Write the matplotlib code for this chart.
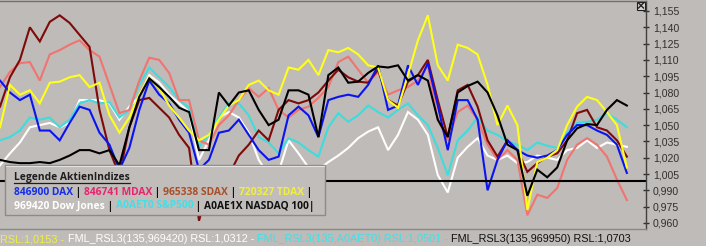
import numpy as np
import matplotlib
matplotlib.use("Agg")
import matplotlib.pyplot as plt
from matplotlib.patches import Rectangle

# ---------------- data (RSL values, one per sample) ----------------
days = np.arange(64)

dax = [1.091, 1.080, 1.073, 1.078, 1.045, 1.045, 1.036, 1.052, 1.067, 1.064,
       1.043, 1.032, 1.009, 1.029, 1.064, 1.091, 1.078, 1.070, 1.055, 1.043,
       1.009, 1.018, 1.043, 1.045, 1.055, 1.041, 1.027, 1.018, 1.021, 1.059,
       1.067, 1.059, 1.039, 1.073, 1.076, 1.078, 1.076, 1.087, 1.105, 1.064,
       1.068, 1.105, 1.087, 1.107, 1.068, 1.027, 1.073, 1.073, 1.055, 0.990,
       1.018, 1.036, 1.027, 1.022, 1.020, 1.022, 1.027, 1.041, 1.050, 1.050,
       1.045, 1.041, 1.032, 1.006]

mdax = [1.085, 1.099, 1.107, 1.108, 1.091, 1.115, 1.119, 1.124, 1.128, 1.119,
        1.113, 1.087, 1.061, 1.064, 1.091, 1.112, 1.110, 1.098, 1.073, 1.073,
        1.036, 1.032, 1.050, 1.059, 1.073, 1.084, 1.076, 1.084, 1.064, 1.057,
        1.064, 1.067, 1.075, 1.085, 1.108, 1.113, 1.101, 1.089, 1.099, 1.078,
        1.082, 1.085, 1.091, 1.105, 1.055, 1.036, 1.062, 1.068, 1.055, 1.032,
        1.018, 1.027, 1.018, 0.967, 0.986, 0.983, 0.992, 1.018, 1.032, 1.038,
        1.032, 1.021, 1.000, 0.981]

sdax = [1.067, 1.094, 1.110, 1.140, 1.127, 1.145, 1.151, 1.144, 1.133, 1.122,
        1.064, 1.027, 1.004, 1.048, 1.073, 1.075, 1.066, 1.057, 1.041, 1.029,
        0.962, 0.995, 1.000, 1.004, 1.022, 1.032, 1.045, 1.036, 1.064, 1.073,
        1.070, 1.073, 1.080, 1.091, 1.101, 1.094, 1.090, 1.089, 1.101, 1.073,
        1.068, 1.090, 1.096, 1.110, 1.073, 1.039, 1.082, 1.087, 1.067, 1.036,
        1.021, 1.036, 1.027, 1.007, 1.015, 1.021, 1.024, 1.036, 1.061, 1.064,
        1.048, 1.045, 1.036, 1.021]

tdax = [1.048, 1.087, 1.078, 1.082, 1.070, 1.089, 1.090, 1.094, 1.096, 1.085,
        1.089, 1.059, 1.043, 1.057, 1.078, 1.094, 1.084, 1.068, 1.057, 1.045,
        1.036, 1.041, 1.055, 1.068, 1.073, 1.087, 1.091, 1.082, 1.078, 1.103,
        1.101, 1.110, 1.096, 1.119, 1.117, 1.121, 1.115, 1.105, 1.103, 1.073,
        1.066, 1.096, 1.128, 1.151, 1.105, 1.091, 1.124, 1.121, 1.115, 1.087,
        1.050, 1.068, 1.050, 0.972, 1.016, 1.020, 1.027, 1.050, 1.067, 1.076,
        1.073, 1.062, 1.050, 1.011]

dow = [1.013, 1.024, 1.034, 1.048, 1.050, 1.052, 1.048, 1.052, 1.073, 1.073,
       1.073, 1.070, 1.055, 1.067, 1.076, 1.096, 1.089, 1.078, 1.070, 1.062,
       1.018, 1.036, 1.057, 1.062, 1.057, 1.043, 1.018, 1.004, 1.007, 1.036,
       1.024, 1.011, 1.009, 1.016, 1.022, 1.029, 1.038, 1.044, 1.048, 1.027,
       1.041, 1.062, 1.055, 1.041, 1.004, 0.988, 1.020, 1.030, 1.038, 1.022,
       1.018, 1.022, 1.015, 1.016, 1.022, 1.020, 1.018, 1.027, 1.029, 1.036,
       1.029, 1.034, 1.032, 1.030]

sp500 = [1.036, 1.039, 1.045, 1.057, 1.055, 1.057, 1.048, 1.055, 1.070, 1.073,
         1.070, 1.071, 1.057, 1.064, 1.087, 1.103, 1.094, 1.085, 1.073, 1.066,
         1.030, 1.041, 1.057, 1.070, 1.070, 1.059, 1.039, 1.034, 1.024, 1.038,
         1.034, 1.027, 1.021, 1.048, 1.061, 1.053, 1.059, 1.068, 1.062, 1.057,
         1.064, 1.070, 1.059, 1.050, 1.029, 1.004, 1.036, 1.045, 1.057, 1.045,
         1.041, 1.035, 1.032, 1.027, 1.034, 1.031, 1.029, 1.043, 1.052, 1.053,
         1.055, 1.061, 1.055, 1.048]

nasdaq = [1.018, 1.016, 1.015, 1.015, 1.016, 1.015, 1.018, 1.022, 1.027, 1.027,
          1.024, 1.027, 1.013, 1.048, 1.076, 1.093, 1.085, 1.076, 1.066, 1.062,
          1.027, 1.027, 1.080, 1.068, 1.080, 1.082, 1.064, 1.050, 1.055, 1.082,
          1.082, 1.078, 1.039, 1.096, 1.103, 1.089, 1.090, 1.098, 1.104, 1.103,
          1.105, 1.091, 1.096, 1.091, 1.055, 1.039, 1.080, 1.086, 1.090, 1.080,
          1.059, 1.032, 1.027, 0.985, 1.009, 1.002, 1.011, 1.036, 1.047, 1.051,
          1.050, 1.064, 1.073, 1.068]

base_level = 0.9985

ytick_vals = [0.960, 0.975, 0.990, 1.005, 1.020, 1.035, 1.050, 1.065,
              1.080, 1.095, 1.110, 1.125, 1.140, 1.155]
ytick_labels = ["0,960", "0,975", "0,990", "1,005", "1,020", "1,035", "1,050",
                "1,065", "1,080", "1,095", "1,110", "1,125", "1,140", "1,155"]

legend_title = "Legende AktienIndizes"
legend_row1 = [("846900 DAX", "#1530E8"), (" | ", "#101010"),
               ("846741 MDAX", "#E8246E"), (" | ", "#101010"),
               ("965338 SDAX", "#A8502A"), (" | ", "#101010"),
               ("720327 TDAX", "#F2F03A"), (" |", "#101010")]
legend_row2 = [("969420 Dow Jones", "#FFFFFF"), (" | ", "#101010"),
               ("A0AET0 S&P500", "#40E0E8"), (" | ", "#101010"),
               ("A0AE1X NASDAQ 100|", "#101010")]
status_parts = [("RSL:1,0153 - ", "#F0F040"),
                ("FML_RSL3(135,969420) RSL:1,0312 - ", "#FFFFFF"),
                ("FML_RSL3(135,A0AET0) RSL:1,0501 - ", "#40E0E8"),
                ("FML_RSL3(135,969950) RSL:1,0703", "#101010")]

# ---------------- figure ----------------
W, H = 706, 246
bg = "#BFBBB8"
fig = plt.figure(figsize=(W / 100, H / 100), dpi=100)
fig.patch.set_facecolor(bg)

ax = fig.add_axes([0, 17 / H, 646 / W, 228 / H])
ax.set_facecolor(bg)

series = [(dow, "#FFFFFF"), (sp500, "#3EDCDC"), (mdax, "#F07470"),
          (sdax, "#7E0A0A"), (dax, "#0A14F0"), (tdax, "#FFFF1A"),
          (nasdaq, "#000000")]
for vals, col in series:
    ax.plot(days, vals, color=col, lw=1.5, solid_joinstyle="miter")

ax.axhline(base_level, color="#000000", lw=1.5)

ax.set_xlim(0, 646 / 9.95)
ax.set_ylim(0.9544, 1.1642)
ax.set_xticks([])
ax.yaxis.tick_right()
ax.set_yticks(ytick_vals)
ax.set_yticklabels(ytick_labels)
ax.tick_params(axis="y", direction="inout", length=4, width=1, pad=3,
               colors="#303030", labelsize=7.6)
for lab in ax.get_yticklabels():
    lab.set_fontfamily("Liberation Sans")
    lab.set_color("#303030")
ax.spines["left"].set_visible(False)
ax.spines["top"].set_color("#707070")
ax.spines["right"].set_color("#404040")
ax.spines["bottom"].set_color("#8A8784")
for s in ax.spines.values():
    s.set_linewidth(1)

# ---------------- overlay in pixel units ----------------
ov = fig.add_axes([0, 0, 1, 1])
ov.set_xlim(0, W)
ov.set_ylim(H, 0)
ov.axis("off")
ov.patch.set_alpha(0)

renderer = fig.canvas.get_renderer()


def text_width(s, **kw):
    t = ov.text(0, 0, s + ".", **kw)
    w1 = t.get_window_extent(renderer=renderer).width
    t.remove()
    t = ov.text(0, 0, ".", **kw)
    w2 = t.get_window_extent(renderer=renderer).width
    t.remove()
    return w1 - w2


def draw_pieces(x0, y, pieces, **kw):
    prefix = ""
    for s, c in pieces:
        x = x0 + (text_width(prefix, **kw) if prefix else 0)
        ov.text(x, y, s, color=c, ha="left", va="baseline", **kw)
        prefix += s


# legend box
ov.add_patch(Rectangle((5, 165), 320, 50, facecolor="#C1BDBA",
                       edgecolor="#8E8A87", lw=1, zorder=5))
ov.plot([6, 324], [166, 166], color="#E4E2E0", lw=0.8, zorder=6)

lfont = dict(fontfamily="Open Sans", fontweight="bold", zorder=7)
target = 301.0
full1 = "".join(s for s, _ in legend_row1)
w10 = text_width(full1, fontsize=10, **lfont)
lsize = 10 * target / w10

tw = text_width(legend_title, fontsize=lsize, **lfont)
ov.text(14, 180, legend_title, color="#1E1E1E", fontsize=lsize,
        ha="left", va="baseline", **lfont)
ov.plot([14, 14 + tw], [182.5, 182.5], color="#1E1E1E", lw=0.9, zorder=7)
draw_pieces(14, 195, legend_row1, fontsize=lsize, **lfont)
draw_pieces(14, 208.5, legend_row2, fontsize=lsize, **lfont)

# close button
ov.add_patch(Rectangle((637, 1.5), 8, 8, facecolor="#D8D6D4",
                       edgecolor="#202020", lw=0.8, zorder=5))
ov.plot([638.5, 643.5], [3, 8], color="#202020", lw=1, zorder=6)
ov.plot([638.5, 643.5], [8, 3], color="#202020", lw=1, zorder=6)

# status line
sfont = dict(fontfamily="Liberation Sans")
full_s = "".join(s for s, _ in status_parts)
ws10 = text_width(full_s, fontsize=10, **sfont)
ssize = 10 * 631.0 / ws10
draw_pieces(0.5, 242, status_parts, fontsize=ssize, **sfont)

fig.savefig("out.png", dpi=100, facecolor=bg)
